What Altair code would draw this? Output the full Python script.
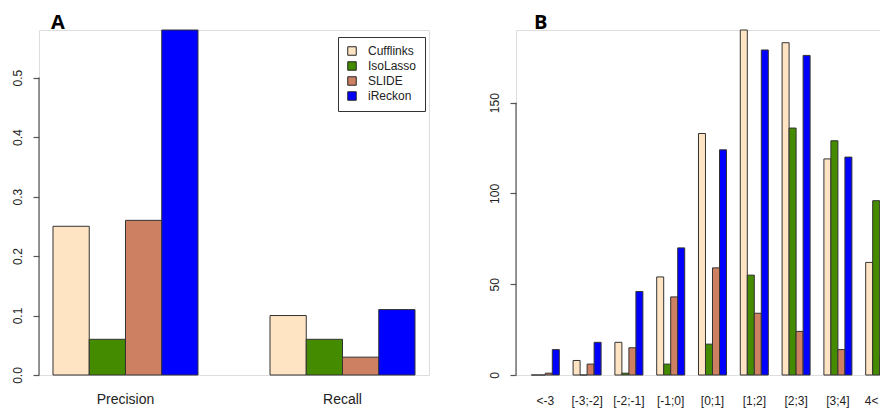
import altair as alt
import pandas as pd

methods = ["Cufflinks", "IsoLasso", "SLIDE", "iReckon"]
colors = ["#FFE4C4", "#458B00", "#CD8162", "#0000FF"]

metrics = ["Precision", "Recall"]
precision = [0.25, 0.06, 0.26, 0.58]
recall = [0.10, 0.06, 0.03, 0.11]

bins = ["<-3", "[-3;-2]", "[-2;-1]", "[-1;0]", "[0;1]", "[1;2]", "[2;3]", "[3;4]", "4<"]
cufflinks_b = [0, 8, 18, 54, 133, 190, 183, 119, 62]
isolasso_b = [0, 0, 1, 6, 17, 55, 136, 129, 96]
slide_b = [1, 6, 15, 43, 59, 34, 24, 14, 10]
ireckon_b = [14, 18, 46, 70, 124, 179, 176, 120, 68]

yticks_a = [0, 0.1, 0.2, 0.3, 0.4, 0.5]
yticks_b = [0, 50, 100, 150]

FONT = "Liberation Sans"
AXIS_COL = "#555555"

rows_a = []
for metric, vals in zip(metrics, [precision, recall]):
    for m, v in zip(methods, vals):
        rows_a.append({"metric": metric, "method": m, "value": v})
df_a = pd.DataFrame(rows_a)

rows_b = []
for m, vals in zip(methods, [cufflinks_b, isolasso_b, slide_b, ireckon_b]):
    for b, v in zip(bins, vals):
        rows_b.append({"bin": b, "method": m, "value": v})
df_b = pd.DataFrame(rows_b)


def y_axis(ticks, fmt):
    return alt.Axis(
        title=None, values=ticks, format=fmt, domain=False,
        tickSize=6, tickColor=AXIS_COL, tickWidth=1.2,
        labelAngle=270, labelAlign="center", labelBaseline="bottom",
        labelPadding=9, labelFontSize=12, labelFont=FONT, labelColor="#222222",
        grid=False,
    )


def title(letter, dx):
    return alt.TitleParams(letter, anchor="start", frame="group", fontSize=20, font="Open Sans",
                           fontWeight="bold", color="black", dx=dx, offset=-3)


color_scale = alt.Scale(domain=methods, range=colors)

bars_a = alt.Chart(df_a).mark_bar(stroke="#333333", strokeWidth=1).encode(
    x=alt.X("metric:N", sort=metrics,
            scale=alt.Scale(paddingInner=0.3318, paddingOuter=0.0645),
            axis=alt.Axis(title=None, labelAngle=0, domain=False, ticks=False, tickSize=0,
                          labelFontSize=14, labelFont=FONT, labelColor="#222222",
                          labelBaseline="alphabetic", labelPadding=28)),
    xOffset=alt.XOffset("method:N", sort=methods, scale=alt.Scale(paddingInner=0, paddingOuter=0)),
    y=alt.Y("value:Q", scale=alt.Scale(domain=[0, 0.58], nice=False, zero=True),
            axis=y_axis(yticks_a, ".1f")),
    color=alt.Color("method:N", sort=methods, scale=color_scale,
                    legend=alt.Legend(title=None, orient="none", legendX=299, legendY=7,
                                      strokeColor="#333333", fillColor="white", padding=8,
                                      symbolType="square", symbolSize=72,
                                      symbolStrokeColor="#222222", symbolStrokeWidth=1,
                                      labelFontSize=12, labelFont=FONT, labelColor="#222222",
                                      labelOffset=10, rowPadding=1)),
)

rule_a = alt.Chart(pd.DataFrame({"lo": [min(yticks_a)], "hi": [max(yticks_a)]})).mark_rule(
    color=AXIS_COL, strokeWidth=1.2
).encode(y=alt.Y("lo:Q", title=None), y2="hi:Q", x=alt.value(0))

panel_a = alt.layer(bars_a, rule_a).properties(width=390, height=345, title=title("A", 12))

last_bin = bins[-1]
bars_b = alt.Chart(df_b).mark_bar(stroke="#333333", strokeWidth=1).encode(
    x=alt.X("bin:N", sort=bins,
            scale=alt.Scale(paddingInner=0.33, paddingOuter=0.366),
            axis=alt.Axis(title=None, labelAngle=0, domain=False, ticks=False, tickSize=0,
                          labelFontSize=12, labelFont=FONT, labelColor="#222222",
                          labelBaseline="alphabetic", labelPadding=29,
                          labelOffset={"condition": {"test": f"datum.value === '{last_bin}'",
                                                     "value": -8}, "value": 0})),
    xOffset=alt.XOffset("method:N", sort=methods, scale=alt.Scale(paddingInner=0, paddingOuter=0)),
    y=alt.Y("value:Q", scale=alt.Scale(domain=[0, 190], nice=False, zero=True),
            axis=y_axis(yticks_b, "d")),
    color=alt.Color("method:N", sort=methods, scale=color_scale, legend=None),
)

rule_b = alt.Chart(pd.DataFrame({"lo": [min(yticks_b)], "hi": [max(yticks_b)]})).mark_rule(
    color=AXIS_COL, strokeWidth=1.2
).encode(y=alt.Y("lo:Q", title=None), y2="hi:Q", x=alt.value(0))

panel_b = alt.layer(bars_b, rule_b).properties(width=393, height=345, title=title("B", 18))

SVG_W, SVG_H = 872, 401
PAD_L, PAD_T = 31, 22

chart = alt.hconcat(panel_a, panel_b, spacing=57).resolve_scale(
    color="independent", x="independent", y="independent", xOffset="independent"
).properties(
    autosize=alt.AutoSizeParams(type="none"),
    padding={"left": PAD_L, "top": PAD_T, "right": SVG_W - PAD_L, "bottom": SVG_H - PAD_T},
).configure_view(stroke=None).configure(background="white")

chart.save("out.html", embed_options={"renderer": "svg", "actions": False})
